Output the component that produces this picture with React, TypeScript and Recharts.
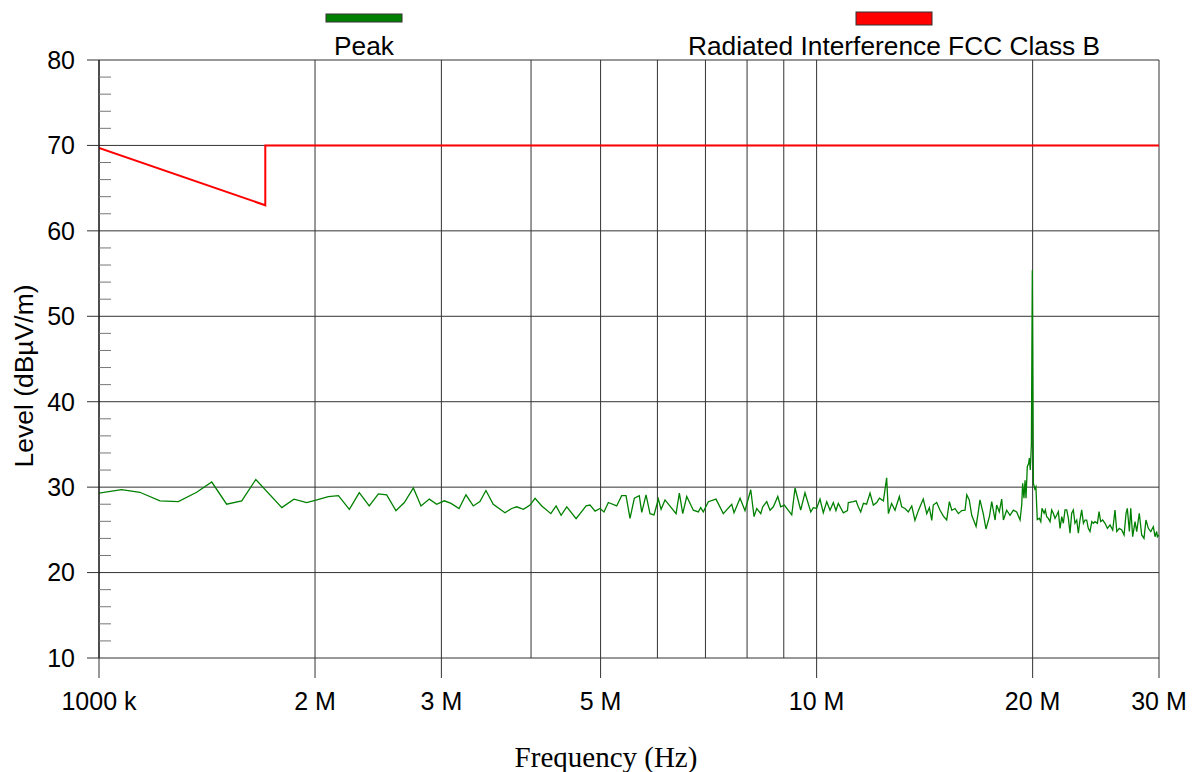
import { LineChart, Line, XAxis, YAxis, CartesianGrid } from 'recharts';

// Peak trace, frequency in MHz, level in dBµV/m
const peakFreq = [
  1.0, 1.075, 1.14, 1.216, 1.29, 1.368, 1.436, 1.506, 1.581, 1.654, 1.798, 1.869, 1.947, 2.012, 2.087, 2.156,
  2.233, 2.305, 2.38, 2.451, 2.517, 2.593, 2.664, 2.742, 2.81, 2.886, 2.955, 3.028, 3.094, 3.175, 3.246, 3.323,
  3.395, 3.461, 3.543, 3.679, 3.759, 3.82, 3.903, 3.987, 4.052, 4.14, 4.262, 4.335, 4.405, 4.486, 4.622, 4.773,
  4.833, 4.912, 4.991, 5.055, 5.126, 5.265, 5.35, 5.425, 5.495, 5.572, 5.661, 5.706, 5.785, 5.859, 5.935, 6.018,
  6.071, 6.148, 6.37, 6.438, 6.508, 6.592, 6.733, 6.841, 6.894, 6.952, 7.065, 7.241, 7.413, 7.616, 7.672, 7.822,
  7.947, 8.095, 8.181, 8.252, 8.359, 8.413, 8.521, 8.612, 8.704, 8.828, 8.913, 9.017, 9.233, 9.331, 9.502, 9.634,
  9.813, 9.895, 10.0, 10.109, 10.217, 10.33, 10.44, 10.55, 10.64, 10.72, 10.895, 11.04, 11.07, 11.25, 11.35, 11.43,
  11.52, 11.62, 11.74, 11.87, 11.996, 12.13, 12.23, 12.39, 12.52, 12.59, 12.72, 12.86, 13.04, 13.14, 13.28, 13.42,
  13.57, 13.71, 13.86, 14.08, 14.24, 14.36, 14.47, 14.54, 14.7, 14.86, 15.02, 15.18, 15.31, 15.43, 15.59, 15.76,
  15.93, 16.1, 16.19, 16.32, 16.45, 16.68, 16.8, 16.89, 17.07, 17.22, 17.41, 17.54, 17.73, 17.82, 17.97, 18.11,
  18.21, 18.4, 18.6, 18.8, 19.0, 19.21, 19.31, 19.37, 19.45, 19.52, 19.58, 19.66, 19.75, 19.79, 19.85, 19.92,
  19.98, 20.05, 20.14, 20.21, 20.3, 20.43, 20.53, 20.61, 20.75, 20.83, 20.92, 21.03, 21.15, 21.26, 21.37, 21.49,
  21.61, 21.72, 21.84, 21.96, 22.07, 22.19, 22.31, 22.43, 22.55, 22.67, 22.79, 22.91, 23.04, 23.16, 23.28, 23.41,
  23.54, 23.66, 23.79, 23.91, 24.04, 24.18, 24.3, 24.435, 24.62, 24.75, 24.88, 25.04, 25.23, 25.42, 25.64, 25.86,
  26.05, 26.2, 26.41, 26.62, 26.82, 26.99, 27.1, 27.28, 27.4, 27.57, 27.78, 27.93, 28.16, 28.38, 28.59, 28.77,
  28.99, 29.22, 29.46, 29.62, 29.78, 29.85, 30.0,
];
const peakLevel = [
  29.3, 29.7, 29.4, 28.4, 28.3, 29.4, 30.6, 28.0, 28.4, 30.9, 27.6, 28.6, 28.2, 28.5, 28.9, 29.0,
  27.4, 29.35, 27.8, 29.2, 29.1, 27.25, 28.2, 29.9, 27.8, 28.6, 28.0, 28.4, 28.1, 27.5, 29.1, 27.8,
  28.3, 29.6, 28.0, 27.0, 27.5, 27.7, 27.4, 27.9, 28.7, 27.8, 26.9, 27.8, 26.7, 27.7, 26.3, 27.8,
  27.9, 27.2, 27.5, 27.1, 28.2, 27.8, 29.0, 29.0, 26.35, 28.7, 29.0, 27.05, 29.1, 26.9, 26.75, 28.6,
  27.4, 28.5, 26.9, 29.3, 26.9, 28.9, 27.3, 27.1, 27.6, 27.1, 28.3, 28.6, 26.9, 28.0, 27.0, 28.7,
  27.25, 29.7, 26.55, 27.5, 26.9, 27.7, 28.3, 27.3, 27.7, 28.9, 27.7, 27.9, 26.75, 29.9, 27.3, 29.35,
  27.1, 27.6, 27.5, 28.6, 27.0, 28.3, 27.3, 28.2, 27.25, 28.1, 27.0, 27.25, 28.2, 28.3, 28.4, 27.7,
  27.1, 28.1, 28.0, 29.3, 27.9, 28.2, 28.7, 28.4, 31.1, 26.9, 28.1, 27.3, 28.9, 27.7, 27.5, 27.1,
  27.8, 26.1, 27.25, 28.6, 26.9, 27.6, 26.1, 27.9, 28.2, 27.3, 26.6, 26.15, 28.3, 27.3, 27.5, 26.9,
  27.25, 27.3, 29.1, 28.5, 26.7, 25.4, 27.1, 28.5, 26.9, 25.1, 26.55, 28.3, 26.15, 27.9, 27.1, 28.6,
  26.15, 27.3, 26.7, 27.3, 27.1, 26.15, 27.9, 30.45, 28.7, 30.8, 28.7, 32.4, 32.8, 33.4, 32.0, 35.0,
  55.4, 30.45, 29.8, 30.05, 26.2, 26.35, 25.96, 27.52, 26.94, 27.33, 26.55, 26.35, 25.96, 27.33, 26.94, 26.35,
  26.74, 27.13, 25.18, 26.55, 25.77, 27.33, 27.33, 26.35, 24.6, 26.94, 27.33, 25.77, 26.15, 24.6, 26.15, 27.33,
  25.77, 26.15, 26.15, 25.18, 24.8, 25.96, 25.77, 25.96, 25.77, 27.13, 25.96, 26.15, 25.77, 25.18, 25.57, 24.98,
  27.33, 24.8, 25.18, 24.98, 24.4, 26.94, 27.52, 24.8, 27.52, 24.2, 25.96, 24.8, 26.94, 24.4, 24.0, 26.15,
  25.18, 24.8, 25.37, 24.2, 24.8, 24.2, 24.4,
];

// FCC Class B limit
const limitFreq = [1.0, 1.705, 1.705, 30.0];
const limitLevel = [69.7, 63.0, 70.0, 70.0];

const freqTicks = [1, 2, 3, 4, 5, 6, 7, 8, 9, 10, 20, 30];
const freqLabels: Record<number, string> = {
  1: '1000 k', 2: '2 M', 3: '3 M', 5: '5 M', 10: '10 M', 20: '20 M', 30: '30 M',
};
const levelTicks = [10, 20, 30, 40, 50, 60, 70, 80];
const levelMinorTicks = [12, 14, 16, 18, 22, 24, 26, 28, 32, 34, 36, 38, 42, 44, 46, 48, 52, 54, 56, 58, 62, 64, 66, 68, 72, 74, 76, 78];
const levelAllTicks = [...levelTicks, ...levelMinorTicks].sort((a, b) => a - b);

const series = [
  { name: 'Peak', color: '#008000' },
  { name: 'Radiated Interference FCC Class B', color: '#ff0000' },
];

const peakData = peakFreq.map((f, i) => ({ f, v: peakLevel[i] }));
const limitData = limitFreq.map((f, i) => ({ f, v: limitLevel[i] }));

const SANS = '"Liberation Sans", Arial, sans-serif';
const GRID = '#333';

const FreqTick = (props: any) => {
  const { x, y, payload } = props;
  const label = freqLabels[payload.value];
  if (!label) return null;
  return (
    <g>
      <line x1={x} x2={x} y1={y - 34} y2={y - 14} stroke={GRID} strokeWidth={1} />
      <text x={x} y={y} dy="0.71em" textAnchor="middle" fontSize={25} fontFamily={SANS} fill="#000">
        {label}
      </text>
    </g>
  );
};

// major ticks point outward with a label, minor ticks point into the plot
const LevelTick = (props: any) => {
  const { x, y, payload } = props;
  const axisX = x + 24;
  if (levelTicks.includes(payload.value)) {
    return (
      <g>
        <line x1={axisX - 12} x2={axisX} y1={y} y2={y} stroke={GRID} strokeWidth={1} />
        <text x={x} y={y} dy="0.355em" textAnchor="end" fontSize={25} fontFamily={SANS} fill="#000">
          {payload.value}
        </text>
      </g>
    );
  }
  return <line x1={axisX} x2={axisX + 12} y1={y} y2={y} stroke="#777" strokeWidth={1} />;
};

// legend boxes sit above the plot
const legendBox = [
  { x: 326, y: 14, w: 76, h: 8 },
  { x: 856, y: 12, w: 76, h: 13 },
];

const App = () => {
  return (
    <div style={{ position: 'absolute', left: 0, top: 0, width: 1196, height: 772, background: '#fff' }}>
      <LineChart
        width={1196}
        height={772}
        margin={{ top: 60, right: 37, bottom: 84, left: 39 }}
      >
        <CartesianGrid stroke={GRID} strokeWidth={1} horizontalValues={levelTicks} />
        <XAxis
          dataKey="f"
          type="number"
          scale="log"
          domain={[1, 30]}
          ticks={freqTicks}
          interval={0}
          allowDataOverflow
          height={30}
          tickSize={20}
          tickMargin={14}
          tickLine={false}
          axisLine={false}
          tick={<FreqTick />}
        />
        <YAxis
          type="number"
          domain={[10, 80]}
          ticks={levelAllTicks}
          interval={0}
          width={60}
          tickSize={12}
          tickMargin={12}
          tickLine={false}
          axisLine={{ stroke: '#000' }}
          tick={<LevelTick />}
        />
        <Line
          data={peakData}
          dataKey="v"
          name={series[0].name}
          type="linear"
          stroke={series[0].color}
          strokeWidth={1.3}
          dot={false}
          isAnimationActive={false}
        />
        <Line
          data={limitData}
          dataKey="v"
          name={series[1].name}
          type="linear"
          stroke={series[1].color}
          strokeWidth={2}
          dot={false}
          isAnimationActive={false}
        />
      </LineChart>
      <svg width={1196} height={772} style={{ position: 'absolute', left: 0, top: 0, pointerEvents: 'none' }}>
        {series.map((s, i) => (
          <g key={s.name}>
            <rect
              x={legendBox[i].x}
              y={legendBox[i].y}
              width={legendBox[i].w}
              height={legendBox[i].h}
              fill={s.color}
              stroke="#333"
              strokeWidth={1}
            />
            <text
              x={legendBox[i].x + legendBox[i].w / 2}
              y={55}
              textAnchor="middle"
              fontSize={26.3}
              fontFamily={SANS}
              fill="#000"
            >
              {s.name}
            </text>
          </g>
        ))}
        <text
          x={24}
          y={376}
          transform="rotate(-90 24 376)"
          textAnchor="middle"
          dominantBaseline="central"
          fontSize={26.5}
          fontFamily={SANS}
          fill="#000"
        >
          Level (dBµV/m)
        </text>
        <text x={606} y={767} textAnchor="middle" fontSize={29} fontFamily='"Liberation Serif", "Times New Roman", serif' fill="#000">
          Frequency (Hz)
        </text>
      </svg>
    </div>
  );
};

export default App;
